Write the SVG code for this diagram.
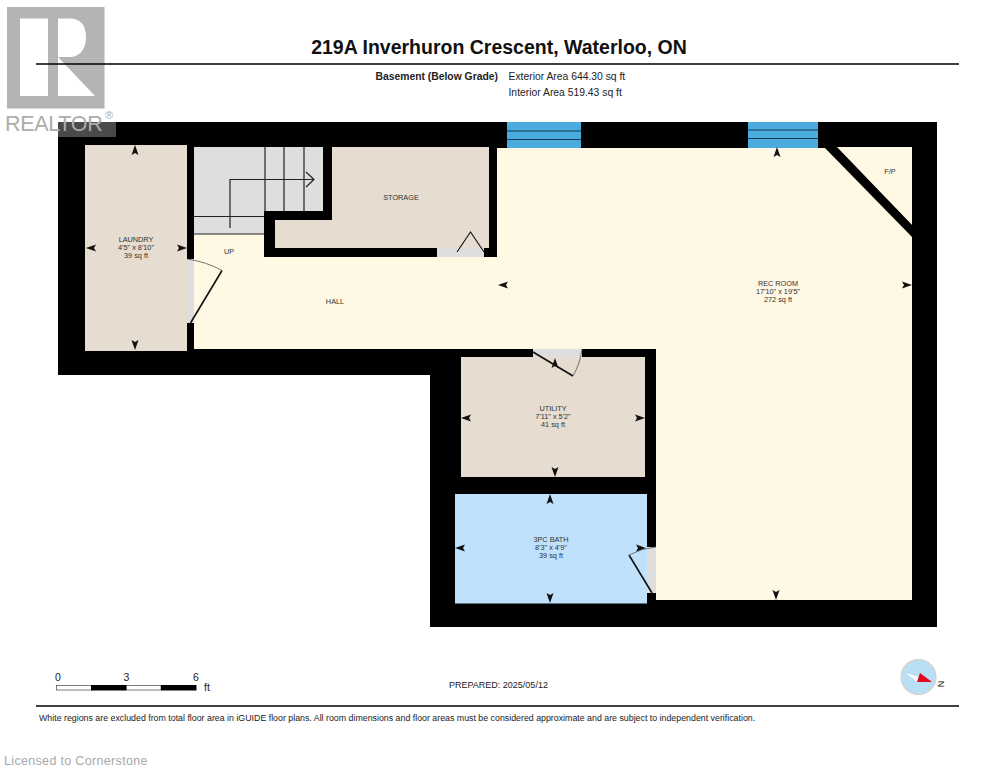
<svg xmlns="http://www.w3.org/2000/svg" xmlns:xlink="http://www.w3.org/1999/xlink" width="995" height="768" viewBox="0 0 995 768">
<style>
text{font-family:"Liberation Sans",Arial,sans-serif;fill:#222}
.room{font-size:7.300px;text-anchor:middle;fill:#333}
.info{font-size:10.350px}
.wall{fill:#000}
.tan{fill:#e6dccf}
.cream{fill:#fff8e4}
.grey{fill:#dedede}
.door{fill:none;stroke:#111;stroke-width:1.6}
.swing{fill:none;stroke:#666;stroke-width:.9}
.tread{stroke:#222;stroke-width:1.200;fill:none}
.win{fill:#4baade}
.winline{stroke:#123a55;stroke-width:1.100}
.rule{stroke:#000;stroke-width:1.600}
</style>
<defs>
<path id="a" d="M0,-6 L3.500,4 L0,2 L-3.500,4 Z" fill="#111"/>
</defs>
<rect width="995" height="768" fill="#fff"/>
<g id="logo">
<path fill="#b4b4b4" fill-rule="evenodd" d="M7,7H104.500V108.500H7Z M20,18.500V96H48V18.500Z M58,18.500V57L95,96H58V57H70C80,57 86,49 86,37C86,25 80,18.500 70,18.500Z"/>
</g>
<g id="header">
<line class="rule" x1="36" y1="64" x2="959" y2="64"/>
<text x="499" y="54" text-anchor="middle" font-size="19.500" font-weight="700" style="fill:#111">219A Inverhuron Crescent, Waterloo, ON</text>
<text class="info" x="375.500" y="80" font-weight="700">Basement (Below Grade)</text>
<text class="info" x="508.500" y="80">Exterior Area 644.30 sq ft</text>
<text class="info" x="508.500" y="96">Interior Area 519.43 sq ft</text>
</g>
<g id="plan">
<path class="wall" d="M58,122H937V627H430V375H58Z"/>
</g>
<g id="laundry">
<rect class="tan" x="85" y="145" width="102" height="206"/>
<text class="room" x="136" y="242">LAUNDRY</text>
<text class="room" x="136" y="250">4'5" x 8'10"</text>
<text class="room" x="136" y="258">39 sq ft</text>
</g>
<g id="hall">
<path class="cream" d="M194,234H264V257H497V148H825L912,237V600H656V349H194Z"/>
<text class="room" x="229" y="254">UP</text>
<text class="room" x="335" y="304">HALL</text>
<text class="room" x="778" y="286">REC ROOM</text>
<text class="room" x="778" y="294">17'10" x 19'5"</text>
<text class="room" x="778" y="302">272 sq ft</text>
</g>
<g id="stairs">
<path class="grey" d="M194,147H323V211H264V234H194Z"/>
<path class="tread" d="M265,147V211M284,147V211M304,147V211M194,216.500H264M194,234H264"/>
<path class="tread" d="M230,228V179.500H314M306,172L314,179.500L306,187"/>
</g>
<g id="storage">
<path class="tan" d="M332,147H489V248H275V220H332Z"/>
<text class="room" x="401" y="200">STORAGE</text>
</g>
<g id="fireplace">
<path class="cream" d="M835,147H912V226Z"/>
<text class="room" x="890" y="174">F/P</text>
</g>
<g id="walls">
<path class="wall" d="M825,146H836L914,227V238Z"/>
</g>
<g id="utility">
<rect class="wall" x="430" y="349" width="226" height="145"/>
<rect class="tan" x="461" y="357" width="184" height="120"/>
<text class="room" x="553" y="411">UTILITY</text>
<text class="room" x="553" y="419">7'11" x 5'2"</text>
<text class="room" x="553" y="427">41 sq ft</text>
</g>
<g id="bath">
<rect class="wall" x="645" y="494" width="11" height="110"/>
<rect x="455" y="494" width="192" height="109.500" fill="#bfe1fb"/>
<text class="room" x="551" y="542">3PC BATH</text>
<text class="room" x="551" y="550">8'3" x 4'9"</text>
<text class="room" x="551" y="558">39 sq ft</text>
</g>
<g id="openings">
<rect class="grey" x="187" y="259" width="7" height="64"/>
<path class="door" d="M190.500,323L222,270.500"/>
<path class="swing" d="M187,259Q207,262 222,270.500"/>
<rect class="grey" x="437" y="248" width="47" height="9"/>
<path class="door" d="M457,252L470.500,232L484,252" style="stroke-width:1.100"/>
<path d="M533,349H582V357H533Z" fill="#dedede"/>
<path class="door" d="M533,352L573,376"/>
<path class="swing" d="M573,376Q580,364 582,349"/>
<rect class="grey" x="647" y="547" width="9" height="46"/>
<path class="door" d="M629,555L652,593"/>
<path class="swing" d="M629,555Q642,548 656,547"/>
<rect class="win" x="507" y="122" width="74" height="26"/>
<path class="winline" d="M507,131H581M507,139.500H581"/>
<rect class="win" x="748" y="122" width="70" height="26"/>
<path class="winline" d="M748,130H818M748,138.500H818"/>
</g>
<g id="connectors">
<use xlink:href="#a" href="#a" transform="translate(135,151)"/>
<use xlink:href="#a" href="#a" transform="translate(135,344) rotate(180)"/>
<use xlink:href="#a" href="#a" transform="translate(92,248) rotate(-90)"/>
<use xlink:href="#a" href="#a" transform="translate(181,248) rotate(90)"/>
<use xlink:href="#a" href="#a" transform="translate(555,364)"/>
<use xlink:href="#a" href="#a" transform="translate(555,471) rotate(180)"/>
<use xlink:href="#a" href="#a" transform="translate(467,418) rotate(-90)"/>
<use xlink:href="#a" href="#a" transform="translate(639,418) rotate(90)"/>
<use xlink:href="#a" href="#a" transform="translate(550,500)"/>
<use xlink:href="#a" href="#a" transform="translate(550,597) rotate(180)"/>
<use xlink:href="#a" href="#a" transform="translate(461,548) rotate(-90)"/>
<use xlink:href="#a" href="#a" transform="translate(640,548) rotate(90)"/>
<use xlink:href="#a" href="#a" transform="translate(777,153)"/>
<use xlink:href="#a" href="#a" transform="translate(776,594) rotate(180)"/>
<use xlink:href="#a" href="#a" transform="translate(504,285) rotate(-90)"/>
<use xlink:href="#a" href="#a" transform="translate(906,285) rotate(90)"/>
</g>
<g id="realtor-mark">
<rect x="58" y="122" width="58" height="15" fill="#4a4a4a"/>
<text x="5" y="131" font-size="21.500" letter-spacing="-.3" style="fill:#adadad">REALTOR</text>
<text x="105" y="119" font-size="11" style="fill:#adadad">®</text>
</g>
<g id="footer">
<rect x="56.500" y="685.500" width="35" height="4.500" fill="#fff" stroke="#444" stroke-width=".7"/>
<rect x="91" y="685" width="35.500" height="5.500" fill="#000"/>
<rect x="126.500" y="685.500" width="34.500" height="4.500" fill="#fff" stroke="#444" stroke-width=".7"/>
<rect x="161" y="685" width="35.500" height="5.500" fill="#000"/>
<text x="58" y="681" font-size="10.500" text-anchor="middle">0</text>
<text x="126.500" y="681" font-size="10.500" text-anchor="middle">3</text>
<text x="196" y="681" font-size="10.500" text-anchor="middle">6</text>
<text x="207" y="691" font-size="10.500" text-anchor="middle">ft</text>
<text x="449" y="688" font-size="9">PREPARED: 2025/05/12</text>
<line class="rule" x1="36" y1="706" x2="959" y2="706"/>
<text x="39" y="721" font-size="8.820">White regions are excluded from total floor area in iGUIDE floor plans. All room dimensions and floor areas must be considered approximate and are subject to independent verification.</text>
<text x="4" y="765" font-size="12.500" letter-spacing=".33" style="fill:#a8a8a8">Licensed to Cornerstone</text>
</g>
<g id="compass">
<circle cx="918.500" cy="677" r="17.500" fill="#b9dff4" stroke="#d8cfc6" stroke-width="1.200"/>
<path d="M906,673L922,678V682L917,682Z" fill="#fff"/>
<path d="M920,673L932,682H917Z" fill="#e3061c"/>
<text x="940.500" y="684" font-size="9" text-anchor="middle" transform="rotate(-90 940.500 684)" dy="3" style="fill:#111">N</text>
</g>
</svg>
